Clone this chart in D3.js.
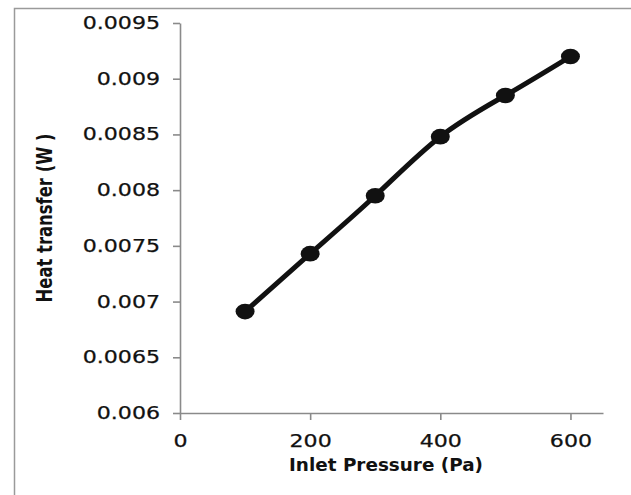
<!DOCTYPE html>
<html>
<head>
<meta charset="utf-8">
<script src="https://cdn.jsdelivr.net/npm/d3@7"></script>
<style>
  html, body { margin: 0; padding: 0; background: #fff; }
  svg { display: block; }
</style>
</head>
<body>
<svg id="chart" width="631" height="495"></svg>
<script>
// ---- data ----
const pressures = [100, 200, 300, 400, 500, 600];
const heatTransfer = [0.00691, 0.00743, 0.00795, 0.00848, 0.00885, 0.00920];
const yTickValues = [0.006, 0.0065, 0.007, 0.0075, 0.008, 0.0085, 0.009, 0.0095];
const yTickLabels = ["0.006", "0.0065", "0.007", "0.0075", "0.008", "0.0085", "0.009", "0.0095"];
const xTickValues = [0, 200, 400, 600];
const xTickLabels = ["0", "200", "400", "600"];
const xTitle = "Inlet Pressure  (Pa)";
const yTitle = "Heat transfer (W )";

const svg = d3.select("#chart");
const stretch = 1.3;

// outer frame (left and top)
svg.append("path")
  .attr("d", "M14.5,495 L14.5,8.5 L631,8.5")
  .attr("fill", "none").attr("stroke", "#9a9a9a").attr("stroke-width", 1.5);

const x = d3.scaleLinear().domain([0, 650]).range([180, 603]);
const y = d3.scaleLinear().domain([0.006, 0.0095]).range([413, 23]);

function stretchText(sel, factor) {
  sel.each(function () {
    const len = this.getComputedTextLength();
    d3.select(this).attr("textLength", len * factor).attr("lengthAdjust", "spacingAndGlyphs");
  });
}

// y axis
const yAxis = svg.append("g")
  .attr("transform", `translate(${x(0)},0)`)
  .call(d3.axisLeft(y).tickValues(yTickValues)
    .tickFormat((d, i) => yTickLabels[i]).tickSize(7).tickPadding(13).tickSizeOuter(0));
yAxis.select(".domain").attr("stroke", "#8a8a8a").attr("stroke-width", 1.6);
yAxis.selectAll(".tick line").attr("stroke", "#8a8a8a").attr("stroke-width", 1.6);
yAxis.selectAll(".tick text")
  .attr("font-family", "DejaVu Sans").attr("font-size", 17).attr("fill", "#111")
  .attr("stroke", "#111").attr("stroke-width", 0.25)
  .call(stretchText, stretch);

// x axis
const xAxis = svg.append("g")
  .attr("transform", `translate(0,${y(0.006)})`)
  .call(d3.axisBottom(x).tickValues(xTickValues)
    .tickFormat((d, i) => xTickLabels[i]).tickSize(7).tickPadding(15).tickSizeOuter(0));
xAxis.select(".domain").attr("stroke", "#8a8a8a").attr("stroke-width", 1.6);
xAxis.selectAll(".tick line").attr("stroke", "#8a8a8a").attr("stroke-width", 1.6);
xAxis.selectAll(".tick text")
  .attr("font-family", "DejaVu Sans").attr("font-size", 17).attr("fill", "#111")
  .attr("stroke", "#111").attr("stroke-width", 0.25)
  .call(stretchText, stretch);

// axis titles
svg.append("text")
  .attr("x", 386).attr("y", 471)
  .attr("text-anchor", "middle")
  .attr("font-family", "DejaVu Sans").attr("font-weight", "bold").attr("font-size", 17)
  .attr("fill", "#111")
  .text(xTitle)
  .attr("textLength", 194).attr("lengthAdjust", "spacingAndGlyphs");

svg.append("g")
  .attr("transform", "translate(52,218) scale(1.38,1) rotate(-90)")
  .append("text")
  .attr("x", 0).attr("y", 0)
  .attr("text-anchor", "middle")
  .attr("font-family", "DejaVu Sans").attr("font-weight", "bold").attr("font-size", 16)
  .attr("fill", "#111")
  .text(yTitle)
  .attr("textLength", 169).attr("lengthAdjust", "spacingAndGlyphs");

// data line
const pts = pressures.map((p, i) => [p, heatTransfer[i]]);
const line = d3.line().x(d => x(d[0])).y(d => y(d[1])).curve(d3.curveNatural);
svg.append("path")
  .datum(pts)
  .attr("d", line)
  .attr("fill", "none").attr("stroke", "#111").attr("stroke-width", 5)
  .attr("stroke-linecap", "round");

svg.append("g").selectAll("ellipse")
  .data(pts).join("ellipse")
  .attr("cx", d => x(d[0])).attr("cy", d => y(d[1]))
  .attr("rx", 9.5).attr("ry", 7.8)
  .attr("fill", "#111");
</script>
</body>
</html>
